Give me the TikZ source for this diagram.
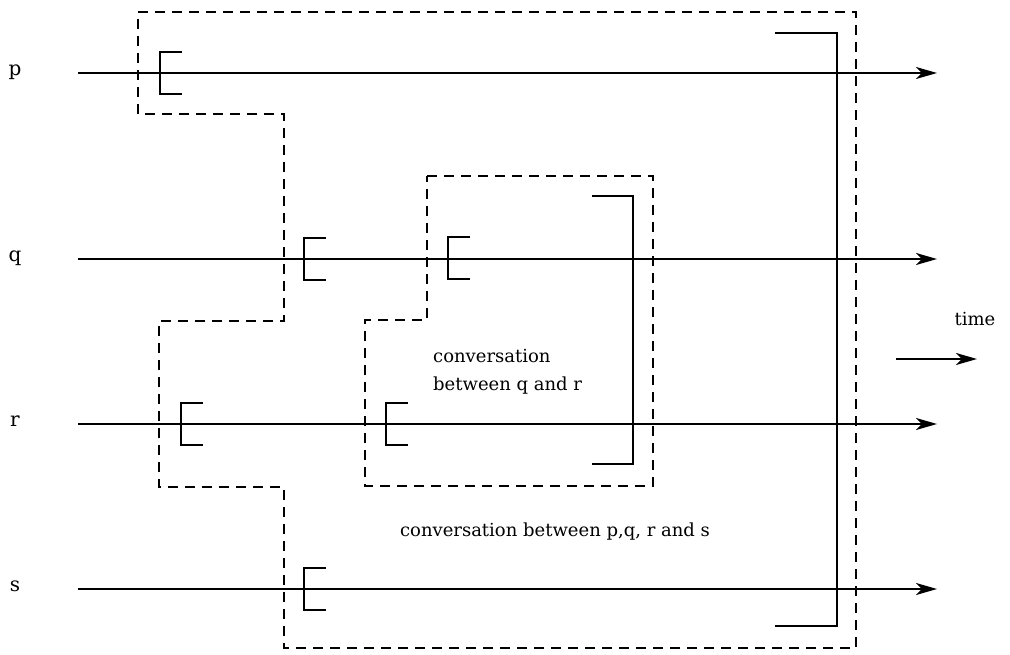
\documentclass[tikz,border=0pt]{standalone}
\usepackage{fontspec}
\setmainfont{DejaVu Serif}
\usetikzlibrary{arrows.meta}
\begin{document}
\begin{tikzpicture}[x=1pt,y=-1pt,
  solidline/.style={line width=2pt},
  dashline/.style={line width=2pt,dash pattern=on 10pt off 7pt},
  timeline/.style={line width=2pt,-{Stealth[length=21pt,width=12pt,inset=6pt]}},
  lbl/.style={font=\fontsize{18}{22}\selectfont,inner sep=0pt},
  plbl/.style={font=\fontsize{20}{24}\selectfont,inner sep=0pt,anchor=mid},
  lbr/.pic={\draw[solidline,line cap=butt,line join=miter] (22,-21) -- (0,-21) -- (0,21) -- (22,21);}
]
\useasboundingbox (0,0) rectangle (1010,655);

% process labels
\node[plbl] (lp) at (15,73) {p};
\node[plbl] (lq) at (15,259) {q};
\node[plbl] (lr) at (15,424) {r};
\node[plbl] (ls) at (15,589) {s};

% time lines
\coordinate (pS) at (78,73);  \coordinate (pE) at (937,73);
\coordinate (qS) at (78,259); \coordinate (qE) at (937,259);
\coordinate (rS) at (78,424); \coordinate (rE) at (937,424);
\coordinate (sS) at (78,589); \coordinate (sE) at (937,589);
\draw[timeline] (pS) -- (pE);
\draw[timeline] (qS) -- (qE);
\draw[timeline] (rS) -- (rE);
\draw[timeline] (sS) -- (sE);

% outer conversation boundary
\draw[dashline] (138,12) -- (856,12) -- (856,648) -- (284,648) -- (284,487)
  -- (159,487) -- (159,321) -- (284,321) -- (284,114) -- (138,114) -- cycle;

% inner conversation boundary
\draw[dashline] (427,176) -- (653,176) -- (653,486) -- (365,486) -- (365,320)
  -- (427,320) -- cycle;

% opening brackets
\pic at (160,73) {lbr};
\pic at (304,259) {lbr};
\pic at (448,258) {lbr};
\pic at (181,424) {lbr};
\pic at (386,424) {lbr};
\pic at (304,589) {lbr};

% closing brackets
\draw[solidline] (592,196) -- (633,196) -- (633,464) -- (592,464);
\draw[solidline] (775,33) -- (837,33) -- (837,626) -- (775,626);

% texts
\node[lbl,anchor=base west] (c1) at (433,362) {conversation};
\node[lbl,anchor=base west] (c2) at (433,390) {between q and r};
\node[lbl,anchor=base] (c3) at (555,536) {conversation between p,q, r and s};
\node[lbl,anchor=base] (tm) at (975,325) {time};
\coordinate (tS) at (896,359);
\coordinate (tE) at (977,359);
\draw[timeline] (tS) -- (tE);
\end{tikzpicture}
\end{document}
